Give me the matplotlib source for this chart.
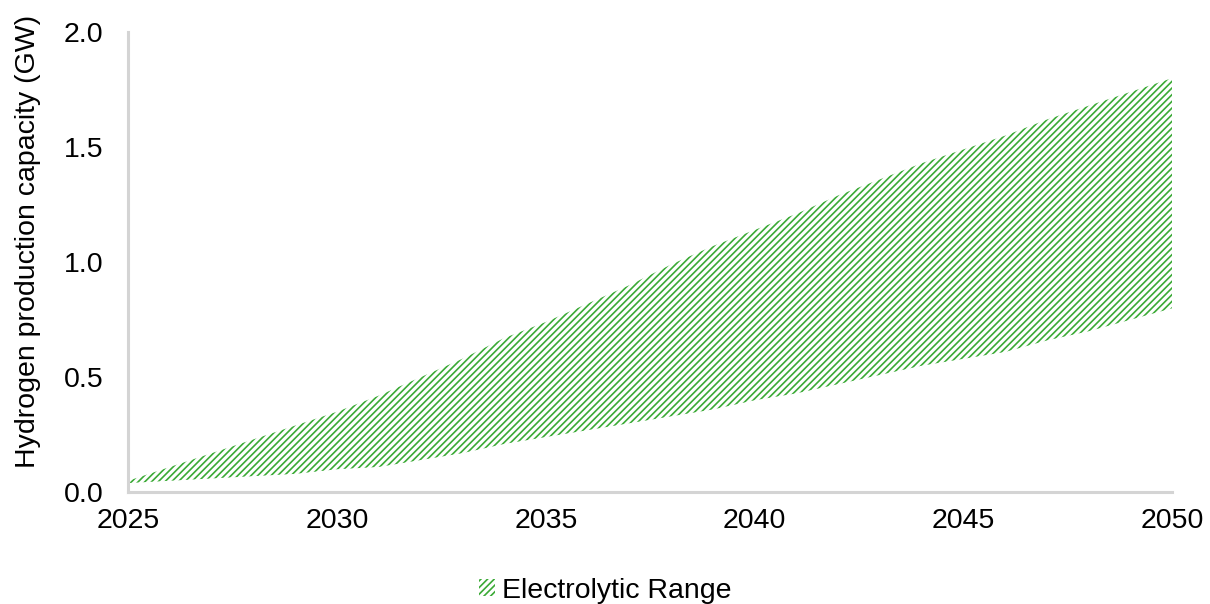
import matplotlib.pyplot as plt

plt.rcParams['font.family'] = ['Liberation Sans', 'DejaVu Sans']
plt.rcParams['hatch.linewidth'] = 1.2

years = list(range(2025, 2051))
upper = [0.05, 0.11, 0.17, 0.23, 0.29, 0.35, 0.42, 0.50, 0.58, 0.67, 0.74, 0.82, 0.90,
         0.99, 1.07, 1.14, 1.21, 1.29, 1.36, 1.43, 1.49, 1.55, 1.62, 1.68, 1.74, 1.80]
lower = [0.04, 0.05, 0.06, 0.07, 0.08, 0.10, 0.11, 0.14, 0.17, 0.21, 0.24, 0.27, 0.30,
         0.33, 0.36, 0.40, 0.43, 0.47, 0.51, 0.55, 0.58, 0.61, 0.66, 0.70, 0.75, 0.80]
xticks = [2025, 2030, 2035, 2040, 2045, 2050]
yticks = [0.0, 0.5, 1.0, 1.5, 2.0]

green = '#3aaa35'
spine_col = '#d4d4d4'
fs = 20.5

fig = plt.figure(figsize=(12.1, 6.04), dpi=100)
ax = fig.add_axes([0.106, 0.185, 0.863, 0.762])

ax.fill_between(years, lower, upper, facecolor='none', edgecolor=green,
                hatch='/////', linewidth=0, label='Electrolytic Range')

ax.set_xlim(2025, 2050)
ax.set_ylim(0, 2.0)
ax.set_xticks(xticks)
ax.set_yticks(yticks)
ax.set_yticklabels([f'{v:.1f}' for v in yticks])
ax.tick_params(axis='both', length=0, labelsize=fs, colors='black')
ax.tick_params(axis='y', pad=18)
ax.tick_params(axis='x', pad=11)

for s in ['top', 'right']:
    ax.spines[s].set_visible(False)
for s in ['left', 'bottom']:
    ax.spines[s].set_color(spine_col)
    ax.spines[s].set_linewidth(2.2)

ax.set_ylabel('Hydrogen production capacity (GW)', fontsize=fs)
ax.yaxis.set_label_coords(-0.084, 0.546)

leg = fig.legend(loc='center', bbox_to_anchor=(0.5, 0.022), frameon=False,
                 fontsize=fs, handlelength=0.55, handleheight=0.55, handletextpad=0.25)

fig.savefig('out.png', dpi=100)
